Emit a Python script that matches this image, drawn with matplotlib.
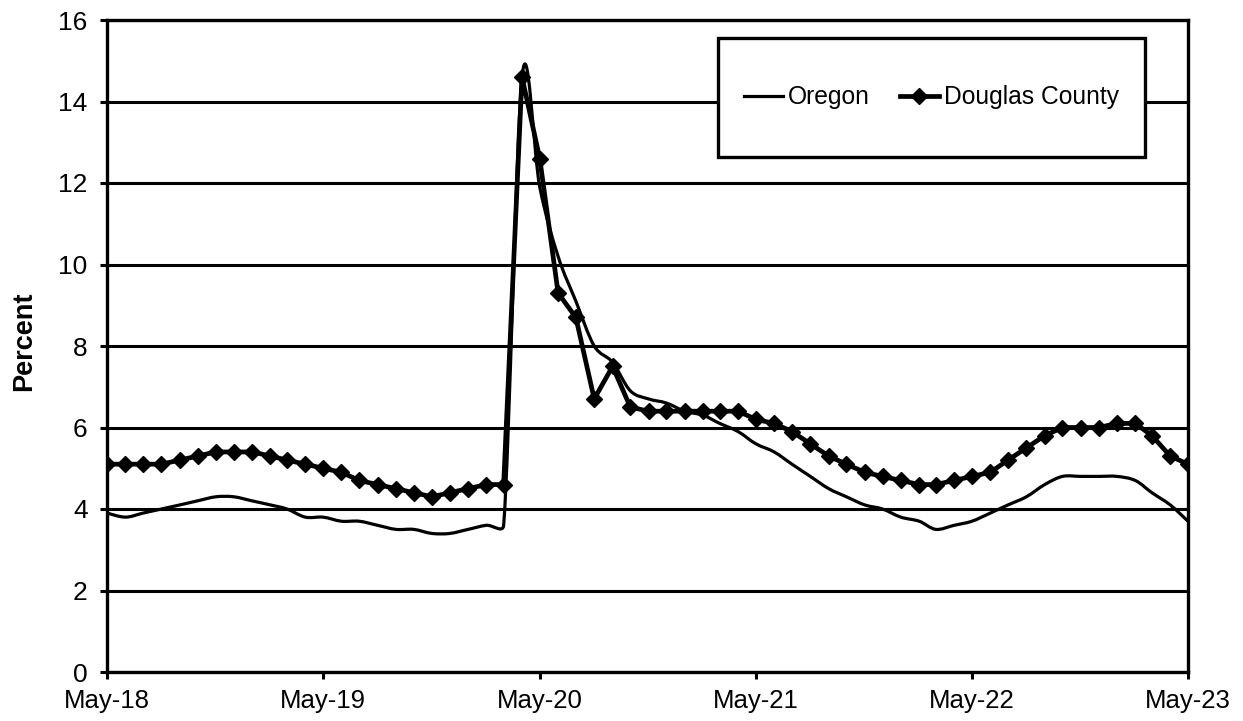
import numpy as np
import pandas as pd
import matplotlib
matplotlib.use('Agg')
import matplotlib.pyplot as plt
import matplotlib.dates as mdates
from matplotlib.path import Path
from matplotlib.patches import PathPatch, Rectangle
from matplotlib.lines import Line2D

plt.rcParams['font.family'] = ['Liberation Sans', 'DejaVu Sans']

# Meses: may-2018 a may-2023
meses = pd.date_range('2018-05-01', '2023-05-01', freq='MS')

# Tasa de desempleo (%)
oregon = [3.9, 3.8, 3.9, 4.0, 4.1, 4.2, 4.3, 4.3, 4.2, 4.1, 4.0, 3.8,
          3.8, 3.7, 3.7, 3.6, 3.5, 3.5, 3.4, 3.4, 3.5, 3.6, 3.6, 14.6,
          11.9, 10.2, 9.1, 8.0, 7.6, 6.9, 6.7, 6.6, 6.4, 6.3, 6.1, 5.9,
          5.6, 5.4, 5.1, 4.8, 4.5, 4.3, 4.1, 4.0, 3.8, 3.7, 3.5, 3.6,
          3.7, 3.9, 4.1, 4.3, 4.6, 4.8, 4.8, 4.8, 4.8, 4.7, 4.4, 4.1,
          3.7]
douglas = [5.1, 5.1, 5.1, 5.1, 5.2, 5.3, 5.4, 5.4, 5.4, 5.3, 5.2, 5.1,
           5.0, 4.9, 4.7, 4.6, 4.5, 4.4, 4.3, 4.4, 4.5, 4.6, 4.6, 14.6,
           12.6, 9.3, 8.7, 6.7, 7.5, 6.5, 6.4, 6.4, 6.4, 6.4, 6.4, 6.4,
           6.2, 6.1, 5.9, 5.6, 5.3, 5.1, 4.9, 4.8, 4.7, 4.6, 4.6, 4.7,
           4.8, 4.9, 5.2, 5.5, 5.8, 6.0, 6.0, 6.0, 6.1, 6.1, 5.8, 5.3,
           5.1]

y_ticks = list(range(0, 17, 2))


def linea_suave(ax, x, y):
    # curva suavizada tipo Excel (bezier), calculada en pixeles
    pts = ax.transData.transform(np.column_stack([x, y]))
    n = len(pts)
    verts = [pts[0]]
    for i in range(n - 1):
        p0 = pts[i - 1] if i > 0 else pts[i]
        p1 = pts[i]
        p2 = pts[i + 1]
        p3 = pts[i + 2] if i + 2 < n else pts[i + 1]
        mitad = np.linalg.norm(p2 - p1) / 2
        t1 = (p2 - p0) / 6
        t2 = (p3 - p1) / 6
        if np.linalg.norm(t1) > mitad:
            t1 = t1 * mitad / np.linalg.norm(t1)
        if np.linalg.norm(t2) > mitad:
            t2 = t2 * mitad / np.linalg.norm(t2)
        verts += [p1 + t1, p2 - t2, p2]
    codes = [Path.MOVETO] + [Path.CURVE4] * 3 * (n - 1)
    verts = ax.transData.inverted().transform(np.array(verts))
    return Path(verts, codes)


fig = plt.figure(figsize=(12.43, 7.21), dpi=100)
ax = fig.add_axes([107 / 1243, 1 - 672 / 721, 1081 / 1243, 652 / 721])

x = mdates.date2num(meses)
ax.set_xlim(x[0], x[-1])
ax.set_ylim(0, 16)

# Oregon (linea suavizada)
ax.add_patch(PathPatch(linea_suave(ax, x, oregon), fill=False,
                       edgecolor='black', lw=2.3, zorder=3,
                       capstyle='round', joinstyle='round'))

# Douglas County
ax.plot(x, douglas, color='black', lw=3.4, marker='D', markersize=8,
        markeredgewidth=1, zorder=4)

ax.set_yticks(y_ticks)
ax.yaxis.grid(True, color='black', lw=2.2)
ax.set_axisbelow(True)

ax.xaxis.set_major_locator(mdates.MonthLocator(bymonth=5))
ax.xaxis.set_major_formatter(mdates.DateFormatter('%b-%y'))

ax.tick_params(axis='both', direction='out', length=5, width=2.2,
               color='black')
ax.tick_params(axis='y', pad=9, labelsize=19)
ax.tick_params(axis='x', pad=7, labelsize=18.5)
for s in ax.spines.values():
    s.set_linewidth(2.4)
    s.set_color('black')

ax.text(-0.0768, 0.508, 'Percent', rotation=90, ha='center', va='center',
        transform=ax.transAxes, fontsize=19.5, fontweight='bold')

# Leyenda con caja
x0, x1 = 0.5652, 0.9602
y0, y1 = 0.7899, 0.9724
ax.add_patch(Rectangle((x0, y0), x1 - x0, y1 - y0, transform=ax.transAxes,
                       facecolor='white', edgecolor='black', lw=2.4,
                       zorder=5))
handles = [Line2D([], [], color='black', lw=2.3),
           Line2D([], [], color='black', lw=3.4, marker='D', markersize=8)]
leg = ax.legend(handles, ['Oregon', 'Douglas County'], loc='center',
                bbox_to_anchor=((x0 + x1) / 2, (y0 + y1) / 2), ncol=2,
                frameon=False, fontsize=17.7, handlelength=1.6,
                handletextpad=0.2, columnspacing=1.2)
leg.set_zorder(6)

fig.savefig('out.png', dpi=100)
